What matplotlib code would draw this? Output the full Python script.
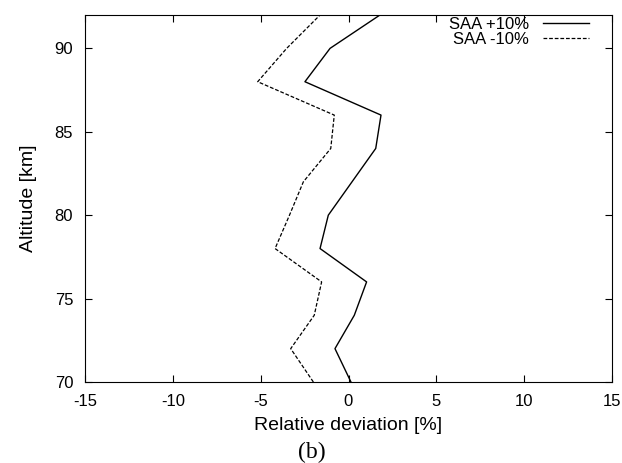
import numpy as np
import matplotlib.pyplot as plt

plt.rcParams['font.family'] = ['Liberation Sans', 'DejaVu Sans']
plt.rcParams['axes.unicode_minus'] = False

# altitude grid [km]
altitude = [70, 72, 74, 76, 78, 80, 82, 84, 86, 88, 90, 92]
# relative deviation [%]
saa_plus = [0.14, -0.77, 0.33, 1.03, -1.62, -1.15, 0.2, 1.55, 1.85, -2.48, -1.05, 1.79]
saa_minus = [-2.0, -3.29, -1.95, -1.53, -4.18, -3.36, -2.57, -1.01, -0.81, -5.17, -3.52, -1.62]

fig = plt.figure(figsize=(6.22, 4.63), dpi=100)
ax = fig.add_axes([85 / 622, 1 - 382 / 463, 527 / 622, 367 / 463])

ax.plot(saa_plus, altitude, 'k-', lw=1.0, label='SAA +10%')
ax.plot(saa_minus, altitude, 'k--', lw=0.9, dashes=(3, 1.5), label='SAA -10%')

ax.set_xlim(-15, 15)
ax.set_ylim(70, 92)
ax.set_xticks([-15, -10, -5, 0, 5, 10, 15])
ax.set_yticks([70, 75, 80, 85, 90])
ax.tick_params(direction='in', top=True, right=True, labelsize=12, length=5, pad=8.5)
ax.set_xlabel('Relative deviation [%]', fontsize=14, labelpad=6)
ax.set_ylabel('Altitude [km]', fontsize=14, labelpad=13)

ax.legend(loc='upper right', bbox_to_anchor=(0.96, 1.0), frameon=False,
          markerfirst=False, fontsize=12, handlelength=2.8, labelspacing=0.0,
          borderaxespad=0.0, borderpad=0.1, handletextpad=0.8)

fig.text(312 / 622, 1 - 452 / 463, '(b)', family='Liberation Serif', fontsize=17,
         ha='center', va='center')

fig.savefig('out.png', dpi=100)
